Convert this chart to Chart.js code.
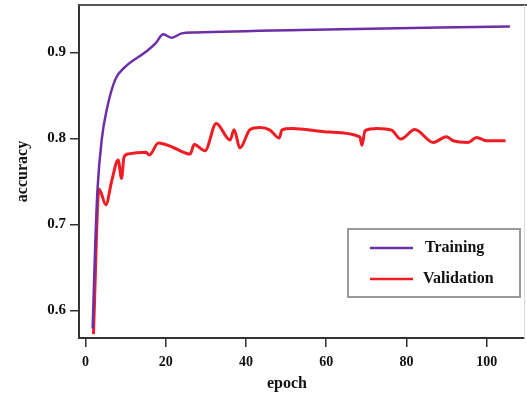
<!DOCTYPE html>
<html>
<head>
<meta charset="utf-8">
<script src="https://cdn.jsdelivr.net/npm/chart.js@4"></script>
<style>
  html, body { margin: 0; padding: 0; background: #fff; }
  #wrap { width: 527px; height: 399px; position: relative; }
</style>
</head>
<body>
<div id="wrap"><canvas id="accChart"></canvas></div>
<script>
// --- data ---
const trainEpochs = [1.8, 2.4, 3.0, 4.1, 5.3, 7.4, 9.9, 14.9, 17.4, 19.4, 21.5, 24.0, 27.3, 53.5, 105.8];
const trainAcc    = [0.579, 0.670, 0.740, 0.800, 0.833, 0.868, 0.883, 0.900, 0.910, 0.921, 0.917, 0.922, 0.923, 0.926, 0.930];

const valEpochs = [2.0, 3.4, 5.1, 6.6, 8.15, 9.0, 9.6, 10.7, 15.1, 15.9, 18.2, 21.6, 26.1, 27.1, 29.8,
                   32.6, 36.05, 37.05, 38.5, 41.0, 43.5, 46.0, 48.3, 49.0, 51.5, 60.9, 68.4, 68.9, 69.7,
                   72.7, 76.3, 78.6, 82.1, 86.7, 89.9, 91.7, 95.4, 97.5, 100.0, 104.7];
const valAcc    = [0.5725, 0.741, 0.723, 0.7515, 0.775, 0.7535, 0.778, 0.782, 0.784, 0.7806, 0.7945, 0.790, 0.7817, 0.7928, 0.7856,
                   0.8174, 0.798, 0.810, 0.7887, 0.810, 0.8125, 0.8096, 0.8003, 0.810, 0.8116, 0.8073, 0.8018, 0.792, 0.809,
                   0.8116, 0.8096, 0.7992, 0.8104, 0.7953, 0.8018, 0.7972, 0.7953, 0.8011, 0.7972, 0.7972];

const xTicks = [0, 20, 40, 60, 80, 100];
const yTicks = [0.6, 0.7, 0.8, 0.9];
const seriesNames = ['Training', 'Validation'];
const xTitle = 'epoch';

const FONT = '"Liberation Serif", "Times New Roman", serif';

// frame pieces chart.js does not draw: top line, faint right edge, x title (sits left of centre)
const framePlugin = {
    id: 'frame',
    afterDraw(chart) {
        const ctx = chart.ctx;
        const a = chart.chartArea;
        ctx.save();
        ctx.strokeStyle = '#555';
        ctx.lineWidth = 2;
        ctx.beginPath();
        ctx.moveTo(a.left, a.top);
        ctx.lineTo(chart.width, a.top);
        ctx.stroke();
        ctx.strokeStyle = '#d8d8d8';
        ctx.lineWidth = 1;
        ctx.beginPath();
        ctx.moveTo(a.right + 0.5, a.top);
        ctx.lineTo(a.right + 0.5, a.bottom);
        ctx.stroke();
        ctx.fillStyle = '#111';
        ctx.font = 'bold 16px ' + FONT;
        ctx.textAlign = 'center';
        ctx.textBaseline = 'middle';
        ctx.fillText(xTitle, 287, 384);
        ctx.restore();
    }
};

// boxed legend inside plot, lower right
const boxLegend = {
    id: 'boxLegend',
    afterDraw(chart) {
        const ctx = chart.ctx;
        ctx.save();
        ctx.strokeStyle = '#9a9a9a';
        ctx.lineWidth = 2;
        ctx.strokeRect(348, 229, 172, 68);
        chart.data.datasets.forEach((ds, i) => {
            const y = 248 + i * 31;
            ctx.strokeStyle = ds.borderColor;
            ctx.lineWidth = 2.5;
            ctx.beginPath();
            ctx.moveTo(370, y);
            ctx.lineTo(413, y);
            ctx.stroke();
            ctx.fillStyle = '#111';
            ctx.font = 'bold 16px ' + FONT;
            ctx.textBaseline = 'middle';
            ctx.fillText(ds.label, i === 0 ? 425 : 423, y);
        });
        ctx.restore();
    }
};

function noPad(s) {
    s.paddingTop = 0; s.paddingBottom = 0; s.paddingLeft = 0; s.paddingRight = 0;
}

new Chart(document.getElementById('accChart'), {
    type: 'line',
    data: {
        datasets: [
            {
                label: seriesNames[0],
                data: trainEpochs.map((e, i) => ({ x: e, y: trainAcc[i] })),
                borderColor: '#6b30a8',
                borderWidth: 2.5,
                pointRadius: 0,
                cubicInterpolationMode: 'monotone',
                fill: false
            },
            {
                label: seriesNames[1],
                data: valEpochs.map((e, i) => ({ x: e, y: valAcc[i] })),
                borderColor: '#f01c24',
                borderWidth: 3,
                pointRadius: 0,
                cubicInterpolationMode: 'monotone',
                fill: false
            }
        ]
    },
    options: {
        responsive: true,
        maintainAspectRatio: false,
        animation: false,
        layout: { padding: { top: 5, right: 3, left: 0, bottom: 0 } },
        plugins: {
            legend: { display: false },
            tooltip: { enabled: false }
        },
        scales: {
            x: {
                type: 'linear',
                min: -1.6,
                max: 109.3,
                afterBuildTicks: s => { s.ticks = xTicks.map(v => ({ value: v })); },
                afterFit: s => { s.height = 61; noPad(s); },
                ticks: {
                    color: '#111',
                    padding: 7,
                    maxRotation: 0,
                    font: { family: FONT, size: 14, weight: 'bold' }
                },
                grid: { drawOnChartArea: false, drawTicks: true, tickLength: 9, color: '#333', lineWidth: 1.5 },
                border: { display: true, color: '#333', width: 2 }
            },
            y: {
                min: 0.568,
                max: 0.955,
                afterBuildTicks: s => { s.ticks = yTicks.map(v => ({ value: v })); },
                afterFit: s => { s.width = 79; noPad(s); },
                ticks: {
                    color: '#111',
                    padding: 4,
                    callback: v => v.toFixed(1),
                    font: { family: FONT, size: 15, weight: 'bold' }
                },
                grid: { drawOnChartArea: false, drawTicks: true, tickLength: 9, color: '#333', lineWidth: 1.5 },
                border: { display: true, color: '#333', width: 2 },
                title: {
                    display: true,
                    text: 'accuracy',
                    color: '#111',
                    padding: { top: 13, bottom: 0 },
                    font: { family: FONT, size: 16, weight: 'bold' }
                }
            }
        }
    },
    plugins: [framePlugin, boxLegend]
});
</script>
</body>
</html>
